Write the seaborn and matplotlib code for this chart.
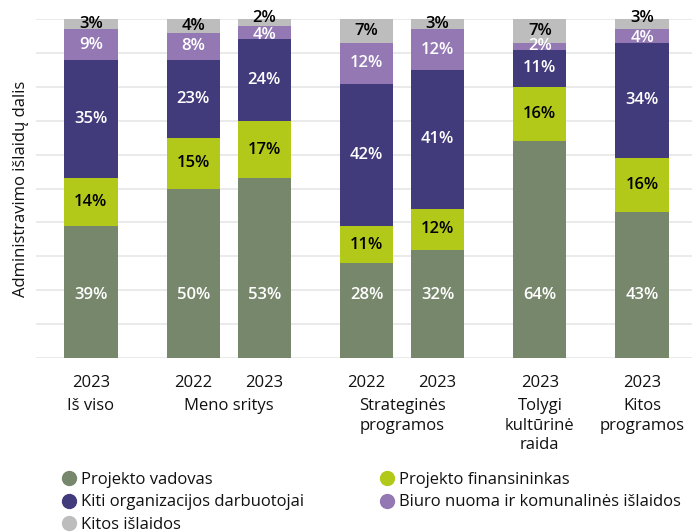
import matplotlib
matplotlib.use("Agg")
import matplotlib.pyplot as plt
import seaborn as sns
import numpy as np
import pandas as pd
from matplotlib.lines import Line2D

sns.set_theme(style="white")
plt.rcParams['font.family'] = ['Open Sans', 'DejaVu Sans']

# ---- data ----
years = ["2023", "2022", "2023", "2022", "2023", "2023", "2023"]
groups = ["Iš viso", "Meno sritys", "Strateginės\nprogramos", "Tolygi\nkultūrinė\nraida", "Kitos\nprogramos"]
group_members = [[0], [1, 2], [3, 4], [5], [6]]
series = ["Projekto vadovas", "Projekto finansininkas", "Kiti organizacijos darbuotojai",
          "Biuro nuoma ir komunalinės išlaidos", "Kitos išlaidos"]
projekto_vadovas = [39, 50, 53, 28, 32, 64, 43]
projekto_finansininkas = [14, 15, 17, 11, 12, 16, 16]
kiti_darbuotojai = [35, 23, 24, 42, 41, 11, 34]
biuro_nuoma = [9, 8, 4, 12, 12, 2, 4]
kitos_islaidos = [3, 4, 2, 7, 3, 7, 3]

values = [projekto_vadovas, projekto_finansininkas, kiti_darbuotojai, biuro_nuoma, kitos_islaidos]
colors = ["#77876b", "#b3c919", "#413b7c", "#9378b4", "#bdbdbd"]
text_colors = ["white", "black", "white", "white", "black"]

# bar positions: gap between groups larger than within group
positions = [0.0, 1.44, 2.44, 3.88, 4.88, 6.32, 7.76]

fig = plt.figure(figsize=(6.96, 5.32), dpi=100)
ax = fig.add_axes([0.052, 0.327, 0.942, 0.637])

vals = np.array(values, dtype=float)
cum = np.cumsum(vals, axis=0)

# draw from top cumulative down so segments stack
for i in range(len(series) - 1, -1, -1):
    df = pd.DataFrame({"x": positions, "y": cum[i]})
    sns.barplot(data=df, x="x", y="y", color=colors[i], native_scale=True,
                width=0.75, saturation=1, ax=ax, zorder=2, linewidth=0)

# labels
n = len(series)
for i in range(n):
    for j, x in enumerate(positions):
        v = vals[i, j]
        ymid = cum[i, j] - v / 2
        if i == 0:
            ymid = 18.5  # bottom labels sit on a common line
        # separate crowded small labels at the top
        if i == n - 1 and v + vals[i - 1, j] <= 7:
            ymid = 100.3
        if i == n - 2 and v + vals[i + 1, j] <= 7:
            ymid -= 0.6
        ax.text(x, ymid, f"{int(v)}%", ha="center", va="center",
                color=text_colors[i], fontsize=12, fontweight="semibold", zorder=3)

ax.set_ylim(0, 100)
ax.set_xlim(-0.77, 8.46)
ax.set_yticks(np.arange(0, 101, 10))
ax.set_yticklabels([])
ax.yaxis.grid(True, color="#e6e6e6", linewidth=1.2, zorder=0)
ax.set_axisbelow(True)
for s in ax.spines.values():
    s.set_visible(False)
ax.tick_params(axis="both", length=0)
ax.set_xticks(positions)
ax.set_xticklabels(years, fontsize=12, color="#111111")
ax.tick_params(axis="x", pad=12)
ax.set_xlabel("")
ax.set_ylabel("Administravimo išlaidų dalis", fontsize=12, color="#111111", labelpad=2)

trans = ax.get_xaxis_transform()
for g, members in zip(groups, group_members):
    gx = np.mean([positions[m] for m in members])
    ax.text(gx, -0.118, g, transform=trans, ha="center", va="top",
            fontsize=12, color="#111111", linespacing=1.3)

handles = [Line2D([], [], marker="o", linestyle="", markersize=10,
                  markerfacecolor=c, markeredgecolor=c) for c in colors]
order = [0, 2, 4, 1, 3]
leg = fig.legend([handles[k] for k in order], [series[k] for k in order],
                 loc="upper left", bbox_to_anchor=(0.078, 0.125), ncol=2, frameon=False,
                 fontsize=12, handletextpad=0.2, columnspacing=4.5, labelspacing=0.38,
                 borderaxespad=0, handlelength=1.0)
for t in leg.get_texts():
    t.set_color("#111111")

fig.savefig("out.png", dpi=100)
